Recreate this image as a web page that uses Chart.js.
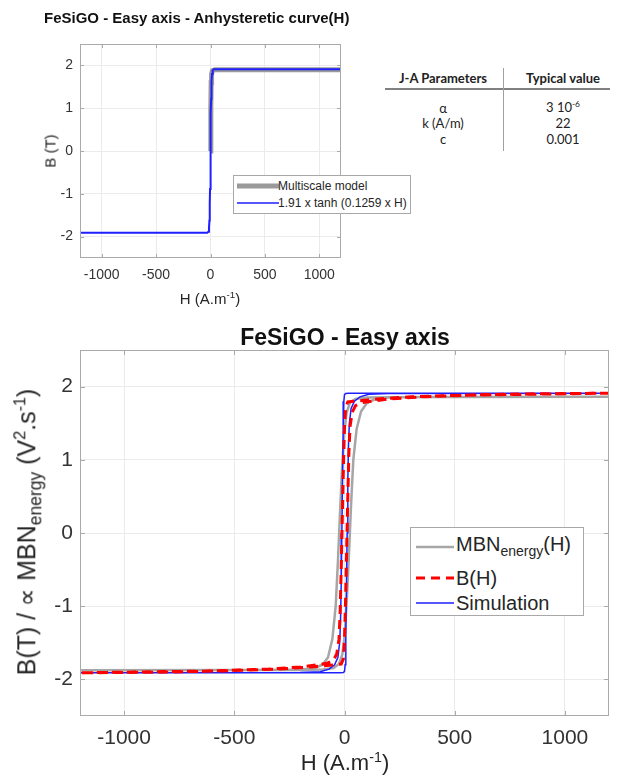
<!DOCTYPE html>
<html>
<head>
<meta charset="utf-8">
<script src="https://cdn.jsdelivr.net/npm/chart.js@4.4.0/dist/chart.umd.min.js"></script>
<style>
  body { margin: 0; background: #fff; }
  #page { position: relative; width: 618px; height: 776px; overflow: hidden;
          font-family: "Liberation Sans", Arial, sans-serif; color: #262626; }
  canvas { position: absolute; left: 0; }
  .t { position: absolute; white-space: nowrap; line-height: 1; }
  .c { transform: translate(-50%, -50%); }
  .l { transform: translateY(-50%); }
  .rot { transform: translate(-50%, -50%) rotate(-90deg); }
  .legend { position: absolute; background: #fff; border: 1px solid #a8a8a8; }
  .legend svg { position: absolute; }
  sub { font-size: 70%; vertical-align: -0.35em; }
  sup { font-size: 65%; vertical-align: 0.6em; }
  .tab { font-family: Lato, "Open Sans", sans-serif; color: #222; }
</style>
</head>
<body>
<div id="page">
  <canvas id="topChart" width="360" height="310" style="top:0"></canvas>
  <canvas id="mainChart" width="618" height="466" style="top:310px"></canvas>

  <!-- upper panel texts -->
  <div class="t l" style="left:44px; top:17px; font-weight:bold; font-size:15px; color:#111">FeSiGO - Easy axis - Anhysteretic curve(H)</div>
  <div class="t rot" style="left:50px; top:151px; font-size:15px">B (T)</div>
  <div class="t c" style="left:210px; top:298px; font-size:15px">H (A.m<sup>-1</sup>)</div>
  <div class="legend" style="left:233px; top:175px; width:176px; height:37px;">
    <svg width="42" height="10" style="left:3px; top:5px"><line x1="0" y1="5" x2="42" y2="5" stroke="#9a9a9a" stroke-width="5"/></svg>
    <div class="t l" style="left:44px; top:10px; font-size:12px">Multiscale model</div>
    <svg width="42" height="10" style="left:3px; top:22px"><line x1="0" y1="5" x2="42" y2="5" stroke="#1f1fff" stroke-width="1.5"/></svg>
    <div class="t l" style="left:44px; top:27px; font-size:12px">1.91 x tanh (0.1259 x H)</div>
  </div>

  <!-- parameter table -->
  <div class="t c tab" style="left:443px; top:78px; font-size:13px; font-weight:bold">J-A Parameters</div>
  <div class="t c tab" style="left:563px; top:78px; font-size:13px; font-weight:bold">Typical value</div>
  <div style="position:absolute; left:385px; top:88px; width:225px; height:1.5px; background:#808080"></div>
  <div style="position:absolute; left:503px; top:68px; width:1px; height:83px; background:#a0a0a0"></div>
  <div class="t c tab" style="left:443px; top:108px; font-size:13px">α</div>
  <div class="t c tab" style="left:443px; top:123px; font-size:13px">k (A/m)</div>
  <div class="t c tab" style="left:443px; top:139px; font-size:13px">c</div>
  <div class="t c tab" style="left:563px; top:107px; font-size:13px">3 10<sup>-6</sup></div>
  <div class="t c tab" style="left:563px; top:123px; font-size:13px">22</div>
  <div class="t c tab" style="left:563px; top:139px; font-size:13px">0.001</div>

  <!-- lower panel texts -->
  <div class="t c" style="left:345px; top:337px; font-weight:bold; font-size:23px; color:#111">FeSiGO - Easy axis</div>
  <div class="t rot" style="left:28px; top:532px; font-size:25px">B(T) / ∝ MBN<sub>energy</sub> (V<sup>2</sup>.s<sup>-1</sup>)</div>
  <div class="t c" style="left:345px; top:762px; font-size:22px">H (A.m<sup>-1</sup>)</div>
  <div class="legend" style="left:410px; top:527px; width:172px; height:87px;">
    <svg width="38" height="10" style="left:5px; top:14px"><line x1="0" y1="5" x2="38" y2="5" stroke="#a6a6a6" stroke-width="2.5"/></svg>
    <div class="t l" style="left:45px; top:18px; font-size:20px">MBN<sub>energy</sub>(H)</div>
    <svg width="38" height="10" style="left:5px; top:45px"><line x1="0" y1="5" x2="38" y2="5" stroke="#ff0000" stroke-width="3" stroke-dasharray="9 6"/></svg>
    <div class="t l" style="left:45px; top:50px; font-size:20px">B(H)</div>
    <svg width="38" height="10" style="left:5px; top:70px"><line x1="0" y1="5" x2="38" y2="5" stroke="#1f1fff" stroke-width="1.5"/></svg>
    <div class="t l" style="left:45px; top:75px; font-size:20px">Simulation</div>
  </div>
</div>

<script>
// axis ticks shared by both panels
const hTicks = [-1000, -500, 0, 500, 1000];
const bTicks = [-2, -1, 0, 1, 2];

// anhysteretic curve, upper panel
const multiscaleH = [0, 3, 6, 10, 18, 40, 1200];
const multiscaleB = [0, 1.0, 1.6, 1.8, 1.88, 1.9, 1.9];
const tanhFitH = [-1200, -30, -20, -14, -10, -8, -6, -4, -2, 0, 2, 4, 6, 8, 10, 14, 20, 30, 1200];
const tanhFitB = [-1.91, -1.908, -1.885, -1.8, -1.625, -1.46, -1.219, -0.888, -0.471, 0, 0.471, 0.888, 1.219, 1.46, 1.625, 1.8, 1.885, 1.908, 1.91];

// measured MBN energy loop (descending branch then ascending branch)
const mbnH = [1200, 500, 200, 100, 50, 25, 10, 0, -10, -20, -30, -40, -55, -75, -100, -140, -200, -400, -1200,
              -500, -200, -100, -50, -25, -10, 0, 10, 20, 30, 40, 55, 75, 100, 140, 200, 400, 1200];
const mbnB = [1.86, 1.858, 1.855, 1.85, 1.83, 1.78, 1.65, 1.4, 0.95, 0.3, -0.4, -1.0, -1.45, -1.7, -1.8, -1.85, -1.865, -1.872, -1.875,
              -1.873, -1.87, -1.865, -1.845, -1.79, -1.66, -1.42, -0.95, -0.3, 0.4, 1.0, 1.42, 1.66, 1.77, 1.83, 1.85, 1.857, 1.86];

// measured B(H) loop
const bhH = [1200, 800, 500, 300, 150, 80, 40, 15, 5, 0, -5, -10, -15, -20, -25, -35, -50, -80, -120, -200, -350, -600, -1200,
             -800, -500, -300, -150, -80, -40, -15, -5, 0, 5, 10, 15, 20, 25, 35, 50, 80, 120, 200, 350, 600, 1200];
const bhB = [1.91, 1.9, 1.88, 1.86, 1.83, 1.81, 1.8, 1.79, 1.72, 1.45, 0.9, 0.2, -0.5, -1.1, -1.45, -1.65, -1.74, -1.78, -1.8, -1.83, -1.86, -1.885, -1.91,
             -1.9, -1.88, -1.86, -1.83, -1.81, -1.8, -1.79, -1.72, -1.45, -0.9, -0.2, 0.5, 1.1, 1.45, 1.65, 1.74, 1.78, 1.8, 1.83, 1.86, 1.885, 1.91];

// Jiles-Atherton simulation loop
const simH = [1200, 20, 5, 0, -3, -6, -9, -12, -15, -18, -22, -30, -45, -70, -110, -200, -1200,
              -20, -5, 0, 3, 6, 9, 12, 15, 18, 22, 30, 45, 70, 110, 200, 1200];
const simB = [1.91, 1.91, 1.905, 1.89, 1.8, 1.4, 0.7, 0, -0.7, -1.2, -1.5, -1.7, -1.8, -1.86, -1.895, -1.905, -1.91,
              -1.91, -1.905, -1.89, -1.8, -1.4, -0.7, 0, 0.7, 1.2, 1.5, 1.7, 1.8, 1.86, 1.895, 1.905, 1.91];

const toPoints = (xs, ys) => xs.map((x, i) => ({ x: x, y: ys[i] }));

// draws the closed axes box with inward tick marks
const frameBox = {
  id: 'frameBox',
  afterDatasetsDraw(chart, args, opts) {
    const { ctx, chartArea: a, scales } = chart;
    ctx.save();
    ctx.strokeStyle = '#aaaaaa';
    ctx.lineWidth = 1;
    ctx.strokeRect(a.left + 0.5, a.top + 0.5, a.right - a.left - 1, a.bottom - a.top - 1);
    const len = opts.tick || 4;
    ctx.beginPath();
    scales.x.ticks.forEach(t => {
      const x = Math.round(scales.x.getPixelForValue(t.value)) + 0.5;
      ctx.moveTo(x, a.bottom); ctx.lineTo(x, a.bottom - len);
      ctx.moveTo(x, a.top); ctx.lineTo(x, a.top + len);
    });
    scales.y.ticks.forEach(t => {
      const y = Math.round(scales.y.getPixelForValue(t.value)) + 0.5;
      ctx.moveTo(a.left, y); ctx.lineTo(a.left + len, y);
      ctx.moveTo(a.right, y); ctx.lineTo(a.right - len, y);
    });
    ctx.stroke();
    ctx.restore();
  }
};

function makeChart(id, datasets, o) {
  const tickFont = { family: '"Liberation Sans", Arial, sans-serif', size: o.fontSize };
  return new Chart(document.getElementById(id), {
    type: 'scatter',
    data: { datasets: datasets },
    plugins: [frameBox],
    options: {
      responsive: false,
      animation: false,
      layout: { padding: { left: 0, top: o.top, right: o.right, bottom: 0 } },
      elements: { point: { radius: 0 }, line: { tension: 0 } },
      plugins: { legend: { display: false }, tooltip: { enabled: false }, frameBox: { tick: o.tick } },
      scales: {
        x: {
          type: 'linear', min: -1200, max: 1200,
          afterBuildTicks: s => { s.ticks = hTicks.map(v => ({ value: v })); },
          afterFit: s => { s.height = o.xHeight; },
          grid: { color: '#ebebeb', drawTicks: false },
          border: { display: false },
          ticks: { padding: o.xPad, color: '#333', font: tickFont, maxRotation: 0, callback: v => String(v) }
        },
        y: {
          type: 'linear', min: -2.5, max: 2.5,
          afterBuildTicks: s => { s.ticks = bTicks.map(v => ({ value: v })); },
          afterFit: s => { s.width = 80; },
          grid: { color: '#ebebeb', drawTicks: false },
          border: { display: false },
          ticks: { padding: 7, color: '#333', font: tickFont, callback: v => String(v) }
        }
      }
    }
  });
}

makeChart('topChart', [
  { data: toPoints(tanhFitH, tanhFitB), showLine: true, borderColor: '#1f1fff', borderWidth: 2, order: 0 },
  { data: toPoints(multiscaleH, multiscaleB), showLine: true, borderColor: '#9a9a9a', borderWidth: 5, order: 1 }
], { fontSize: 14, top: 44, right: 19, xHeight: 52, xPad: 9, tick: 4 });

makeChart('mainChart', [
  { data: toPoints(bhH, bhB), showLine: true, borderColor: '#ff0000', borderWidth: 3, borderDash: [9, 6], order: 0 },
  { data: toPoints(simH, simB), showLine: true, borderColor: '#1f1fff', borderWidth: 1.5, order: 1 },
  { data: toPoints(mbnH, mbnB), showLine: true, borderColor: '#a6a6a6', borderWidth: 2.5, order: 2 }
], { fontSize: 21, top: 40, right: 9, xHeight: 60, xPad: 10, tick: 5 });
</script>
</body>
</html>
